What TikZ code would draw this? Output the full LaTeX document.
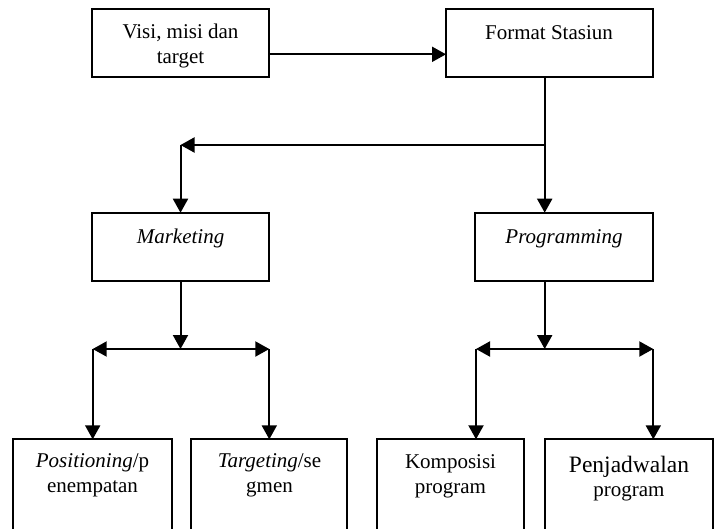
\documentclass[tikz,border=0pt]{standalone}
\usepackage{fontspec}
\setmainfont{Liberation Serif}
\usetikzlibrary{arrows.meta}
\begin{document}
\begin{tikzpicture}[x=1pt,y=-1pt,
  box/.style={draw, line width=2pt, inner sep=0pt, outer sep=0pt},
  txt/.style={inner sep=0pt, align=center, anchor=base, font=\fontsize{21pt}{24.5pt}\selectfont},
  conn/.style={line width=2pt},
  arr/.style={conn, -{Triangle[length=14pt,width=15pt]}},
  dbl/.style={conn, {Triangle[length=14pt,width=15pt]}-{Triangle[length=14pt,width=15pt]}}]
\useasboundingbox (0,0) rectangle (719,528);
\clip (0,0) rectangle (719,528);
% boxes
\node[box, minimum width=177pt, minimum height=68pt] (visi) at (180.5,43.3) {};
\node[box, minimum width=207pt, minimum height=68pt] (format) at (549.5,43.3) {};
\node[box, minimum width=177pt, minimum height=68pt] (marketing) at (180.5,246.7) {};
\node[box, minimum width=178pt, minimum height=68pt] (programming) at (564,246.7) {};
\node[box, minimum width=158.4pt, minimum height=120.7pt] (pos) at (92.5,499.65) {};
\node[box, minimum width=156.6pt, minimum height=120.7pt] (targ) at (269,499.65) {};
\node[box, minimum width=147.3pt, minimum height=120.7pt] (komp) at (450.35,499.65) {};
\node[box, minimum width=167.7pt, minimum height=120.7pt] (penj) at (628.85,499.65) {};
% texts (base anchor = baseline of the last line)
\node[txt] (visitxt) at (180.5,63) {Visi, misi dan\\target};
\node[txt] (formattxt) at (549,39) {Format Stasiun};
\node[txt] (marketingtxt) at (180.5,243) {\itshape Marketing};
\node[txt] (programmingtxt) at (564,243) {\itshape Programming};
\node[txt] (postxt) at (92.5,492) {\textit{Positioning}/p\\enempatan};
\node[txt] (targtxt) at (269.5,492) {\textit{Targeting}/se\\gmen};
\node[txt] (komptxt) at (450.5,493) {Komposisi\\program};
\node[txt] (penjtxt) at (629,496.7) {{\fontsize{23.5pt}{24pt}\selectfont Penjadwalan}\\program};
% connectors
\draw[arr] ([yshift=-11pt]visi.east) -- ([yshift=-11pt]format.west);
\coordinate (fs) at ([xshift=-4.8pt]format.south);
\coordinate (h0) at (544.7,145);
\coordinate (h1) at (180.5,145);
\draw[arr] (fs) -- (fs |- programming.north);
\draw[arr] (h0) -- (h1);
\draw[arr] (h1) -- (marketing.north);
\coordinate (mj) at (180.5,349);
\coordinate (pj1) at (92.7,349);
\coordinate (tj1) at (269.3,349);
\draw[arr] (marketing.south) -- (mj);
\draw[dbl] (pj1) -- (tj1);
\draw[arr] (pj1) -- (pj1 |- pos.north);
\draw[arr] (tj1) -- (tj1 |- targ.north);
\coordinate (ps) at (fs |- programming.south);
\coordinate (prj) at (544.7,349);
\coordinate (kj) at (476,349);
\coordinate (jj) at (653.3,349);
\draw[arr] (ps) -- (prj);
\draw[dbl] (kj) -- (jj);
\draw[arr] (kj) -- (kj |- komp.north);
\draw[arr] (jj) -- (jj |- penj.north);
\end{tikzpicture}
\end{document}
